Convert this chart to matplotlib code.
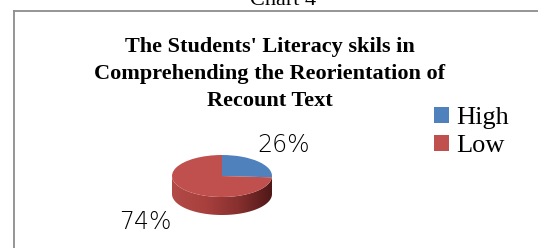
import matplotlib
matplotlib.use("Agg")
import matplotlib.pyplot as plt
from matplotlib.lines import Line2D
from matplotlib.patches import Polygon
from matplotlib.colors import LinearSegmentedColormap
import numpy as np

# data
categories = ["High", "Low"]
percents = [26, 74]
colors = ["#4F81BD", "#C0504D"]
title_lines = ["The Students' Literacy skils in",
               "Comprehending the Reorientation of",
               "Recount Text"]
caption = "Chart 4"

W, H = 538, 248
fig = plt.figure(figsize=(W / 100, H / 100), dpi=100)

def fx(px):
    return px / W

def fy(py):
    return 1 - py / H

# frame around the chart (top and left only visible)
fig.add_artist(Line2D([fx(14), fx(538)], [fy(10.5), fy(10.5)], color="#8c8c8c", lw=1.3))
fig.add_artist(Line2D([fx(14), fx(14)], [fy(10.5), fy(248)], color="#8c8c8c", lw=1.3))

fig.text(fx(283), fy(5), caption, ha="center", va="baseline",
         family="Liberation Serif", fontsize=16)

baselines = [52, 79, 106]
for line, b in zip(title_lines, baselines):
    fig.text(fx(270), fy(b), line, ha="center", va="baseline",
             family="Liberation Serif", fontweight="bold", fontsize=16)

# pie axes: 1 unit = 50 px horizontally, 21 px vertically
ux, uy = 50.0, 21.0
cx, cy = 222, 176
x0, x1 = -1.2, 1.2
y0, y1 = -2.3, 1.5
ax = fig.add_axes([fx(cx + x0 * ux), fy(cy - y0 * uy),
                   (x1 - x0) * ux / W, (y1 - y0) * uy / H])

# side of the 3d pie, shaded left to right
depth = 18 / uy
t = np.linspace(np.pi, 2 * np.pi, 120)
edge = np.column_stack([np.cos(t), np.sin(t)])
lower = edge[::-1] + [0, -depth]
side = Polygon(np.vstack([edge, lower]), closed=True, facecolor="none",
               edgecolor="none", transform=ax.transData)
ax.add_patch(side)
shade = LinearSegmentedColormap.from_list(
    "side", ["#b24a47", "#a8403e", "#86302f", "#4f1817"])
grad = np.linspace(0, 1, 256).reshape(1, -1)
im = ax.imshow(grad, cmap=shade, extent=(-1, 1, -1 - depth, 0.1),
               aspect="auto", interpolation="bilinear")
im.set_clip_path(side)

wedges, _ = ax.pie(percents, colors=colors, startangle=90, counterclock=False,
                   center=(0, 0), radius=1, wedgeprops=dict(linewidth=0))
ax.set_aspect("auto")
ax.set_xlim(x0, x1)
ax.set_ylim(y0, y1)
ax.axis("off")

# data labels
label_pos = [(284, 145), (145, 222)]
for p, (px, py) in zip(percents, label_pos):
    fig.text(fx(px), fy(py), f"{p}%", ha="center", va="center",
             family="DejaVu Sans", fontsize=17, fontweight="light")

leg = fig.legend(wedges, categories, loc="upper left",
                 bbox_to_anchor=(fx(421), fy(94)), frameon=False,
                 prop=dict(family="Liberation Serif", size=19),
                 handlelength=0.55, handleheight=0.55, handletextpad=0.3,
                 labelspacing=0.2, borderpad=0)

fig.savefig("out.png", dpi=100)
